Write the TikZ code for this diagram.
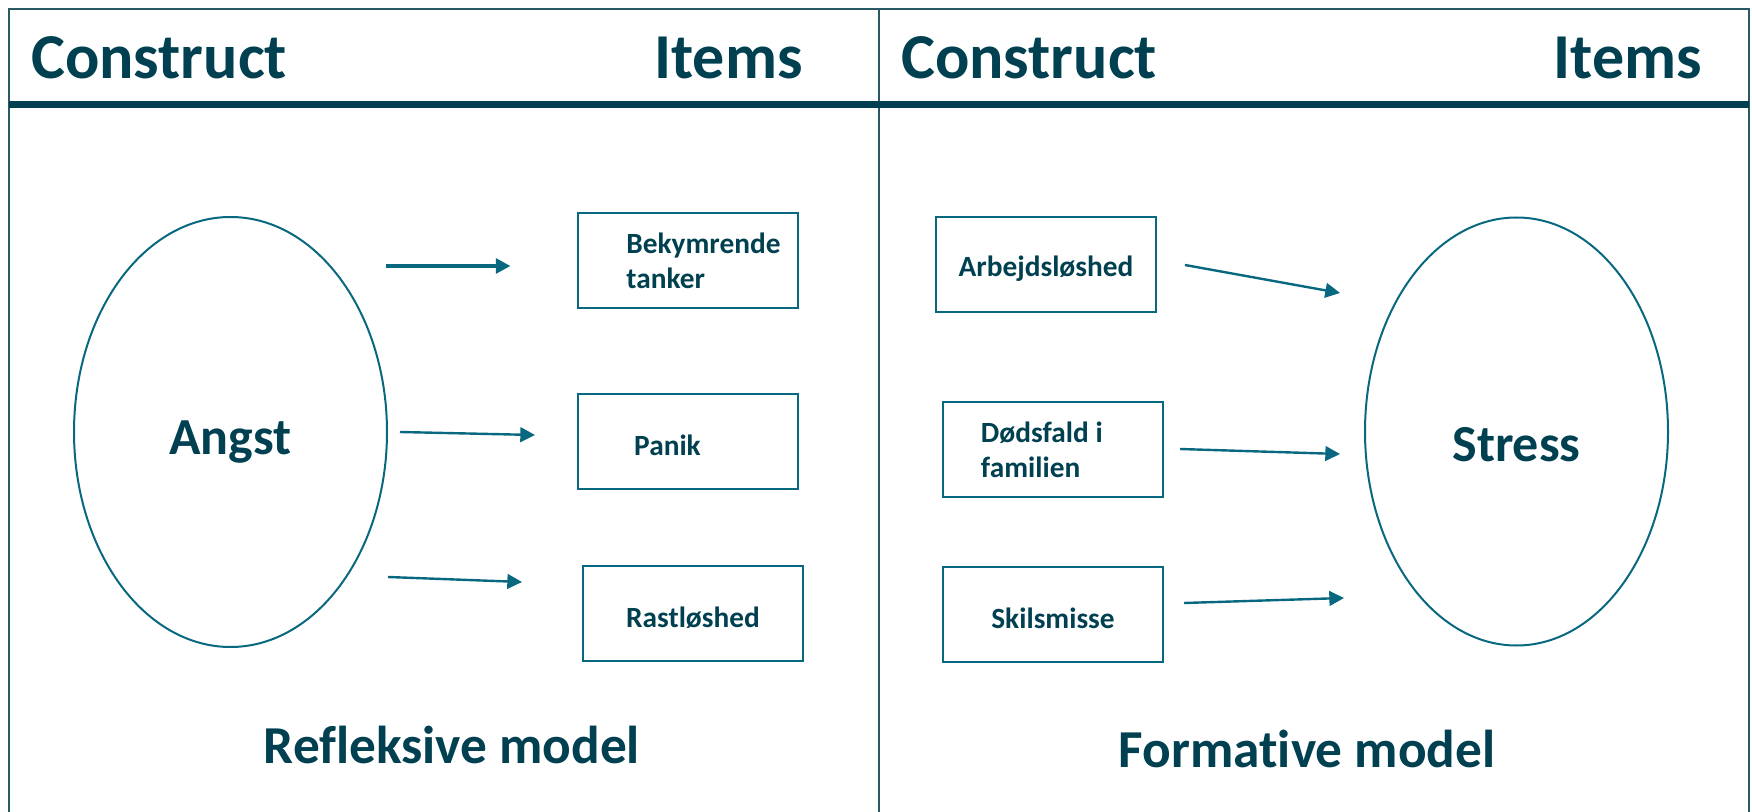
\documentclass[tikz,border=0pt]{standalone}
\usepackage{fontspec}
\setmainfont{Carlito}[Ligatures=NoCommon]
\usepackage{tikz}
\usetikzlibrary{shapes.geometric,arrows.meta,calc}
\usepackage{xcolor}
\definecolor{textteal}{RGB}{0,64,80}
\definecolor{lineteal}{RGB}{8,104,128}
\definecolor{frameteal}{RGB}{40,88,100}

\begin{document}
\begin{tikzpicture}
[
    x=0.75pt,y=-0.75pt,
    heading/.style={inner sep=0pt,text=textteal,font=\fontsize{48}{56}\selectfont\bfseries},
    construct/.style={ellipse,draw=lineteal,line width=1.5pt,inner sep=0pt,text=textteal,text depth=0pt,font=\fontsize{39}{46}\selectfont\bfseries},
    item/.style={rectangle,draw=lineteal,line width=1.5pt,minimum width=165pt,minimum height=71.25pt,align=left,text=textteal,font=\fontsize{22}{26.4}\selectfont\bfseries},
    oneline/.style={item,text height=21.5pt},
    model/.style={inner sep=0pt,anchor=base,text=textteal,font=\fontsize{40}{48}\selectfont\bfseries},
    link/.style={draw=lineteal,line width=1.8pt,-{Triangle[length=11pt,width=11pt]}}
]
\useasboundingbox (0,0) rectangle (1752,812);

% ramme og overskrift
\draw[frameteal,line width=1.5pt] (9,812) -- (9,9) -- (1749,9) -- (1749,812);
\draw[frameteal,line width=1.5pt] (879,9) -- (879,812);
\draw[textteal,line width=5.25pt] (9,104.5) -- (1749,104.5);

\node (conL) at (31,79) [heading,anchor=base west] {Construct};
\node (itemsL) at (803,79) [heading,anchor=base east] {Items};
\node (conR) at (901,79) [heading,anchor=base west] {Construct};
\node (itemsR) at (1702,79) [heading,anchor=base east] {Items};

% refleksiv
\node (angst) at (230.5,432) [construct,minimum width=234.75pt,minimum height=322.5pt,text height=34.5pt] {Angst};

\node (bek) at (687.5,260.5) [item] {\hspace*{24pt}Bekymrende\\\hspace*{24pt}tanker};
\node (panik) at (687.5,441.5) [oneline] {Panik\hspace*{30pt}};
\node (rast) at (693,613.5) [oneline] {Rastløshed};

\draw[link,line width=3pt] ($(angst.east |- bek.west)+(-2,5.5)$) -- ($(bek.west)+(-66,5.5)$);
\draw[link] ($(angst.east |- panik.west)+(12,-9.5)$) -- ($(panik.west)+(-41.5,-6.5)$);
\draw[link] ($(angst.east |- rast.west)+(0,-36.5)$) -- ($(rast.west)+(-60,-31.5)$);

\node (refl) at (452,763) [model] {Refleksive model};

% formativ
\node (stress) at (1516.5,431.5) [construct,minimum width=227.25pt,minimum height=321pt,text height=45.75pt] {Stress};

\node (arb) at (1046,264.5) [oneline] {Arbejdsløshed};
\node (dod) at (1052.5,449.5) [item] {Dødsfald i\hspace*{16pt}\\familien};
\node (skil) at (1053,614.5) [oneline] {Skilsmisse};

\draw[link] ($(arb.east)+(28,0.5)$) -- ($(stress.west |- arb.east)+(-24,28.5)$);
\draw[link] ($(dod.east)+(16.5,-0.5)$) -- ($(stress.west |- dod.east)+(-24,4.5)$);
\draw[link] ($(skil.east)+(20,-11.5)$) -- ($(stress.west |- skil.east)+(-20,-16.5)$);

\node (form) at (1307,767) [model] {Formative model};

\end{tikzpicture}
\end{document}
